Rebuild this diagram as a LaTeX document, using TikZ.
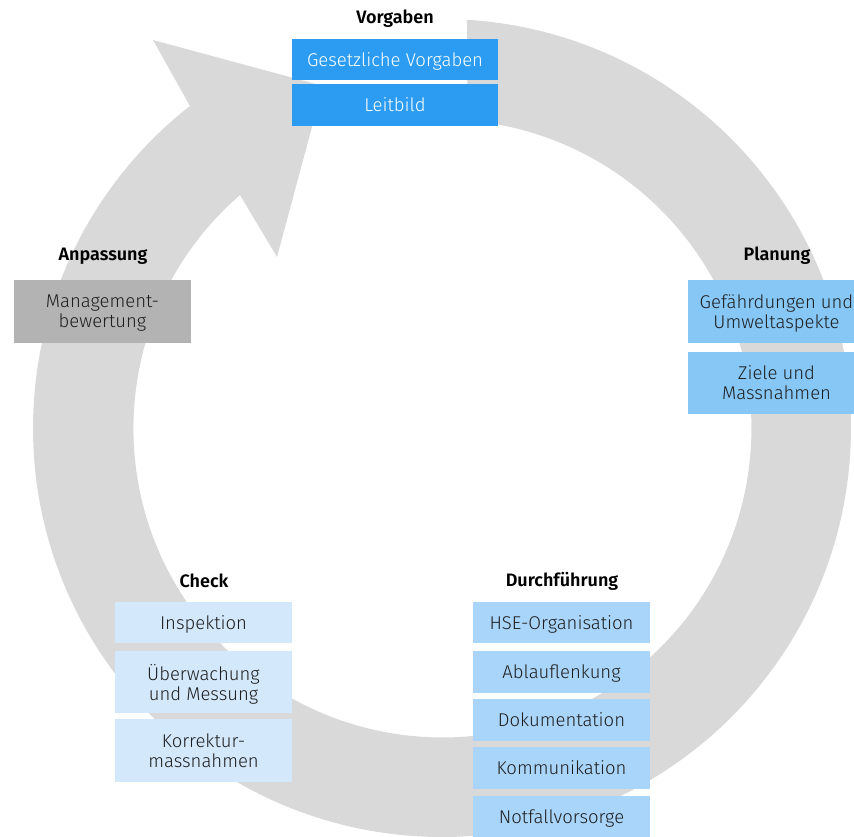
\documentclass[tikz,border=0pt]{standalone}
\usepackage{fontspec}
\setmainfont{Fira Sans}[UprightFont={* Light}, BoldFont={* SemiBold}]
\usepackage{tikz}
\definecolor{ringgrau}{HTML}{D9D9D9}
\definecolor{blaudunkel}{HTML}{2B9CF2}
\definecolor{blaumittel}{HTML}{86C7F6}
\definecolor{blauhell}{HTML}{A9D5FA}
\definecolor{blaublass}{HTML}{D3E8FB}
\definecolor{grau}{HTML}{B3B3B3}
\definecolor{schrift}{HTML}{1E1E1E}

\begin{document}
\begin{tikzpicture}[x=1pt,y=1pt,
titel/.style={font=\bfseries\fontsize{18}{20}\selectfont,text=black},
kasten/.style={rectangle,minimum width=177pt,minimum height=41pt,inner sep=0pt,align=center,
font=\fontsize{18.5}{20}\selectfont,text=schrift,text depth=-4pt},
]
\useasboundingbox (0,0) rectangle (854,-836);
% Kreislauf-Pfeil
\coordinate (mitte) at (442,-428);
\fill[ringgrau] (mitte) ++(86.5:409pt) arc[start angle=86.5,end angle=-231.95,radius=409pt]
 -- (153,-40) -- (323,-86) -- (277,-257) -- (240,-195)
 arc[start angle=-229.07,end angle=85.36,radius=309pt] -- cycle;
% Vorgaben
\node[titel](vorgaben) at (395,-19){Vorgaben};
\node[kasten,fill=blaudunkel,text=white,minimum width=206pt](gesetz) at (395,-59.5){Gesetzliche Vorgaben};
\node[kasten,fill=blaudunkel,text=white,minimum width=206pt,minimum height=42pt](leitbild) at (395,-105){Leitbild};
% Planung
\node[titel](planung) at (777,-256){Planung};
\node[kasten,fill=blaumittel,minimum height=63pt](gefahr) at (776.5,-311.5){Gefährdungen und\\Umweltaspekte};
\node[kasten,fill=blaumittel,minimum height=62pt](ziele) at (776.5,-383){Ziele und\\Massnahmen};
% Durchfuehrung
\node[titel](durch) at (562,-581){Durchführung};
\node[kasten,fill=blauhell](hse) at (561.5,-622.5){HSE-Organisation};
\node[kasten,fill=blauhell,minimum height=42pt](ablauf) at (561.5,-672){Ablauflenkung};
\node[kasten,fill=blauhell,minimum height=42pt](doku) at (561.5,-720){Dokumentation};
\node[kasten,fill=blauhell,minimum height=42pt](komm) at (561.5,-768){Kommunikation};
\node[kasten,fill=blauhell](notfall) at (561.5,-816.5){Notfallvorsorge};
% Check
\node[titel](check) at (204,-581){Check};
\node[kasten,fill=blaublass](inspektion) at (203.5,-622.5){Inspektion};
\node[kasten,fill=blaublass,minimum height=62pt](ueberw) at (203.5,-682){Überwachung\\und Messung};
\node[kasten,fill=blaublass,minimum height=63pt](korrektur) at (203.5,-750.5){Korrektur-\\massnahmen};
% Anpassung
\node[titel](anpassung) at (103,-256){Anpassung};
\node[kasten,fill=grau,minimum height=63pt](management) at (102.5,-311.5){Management-\\bewertung};
\end{tikzpicture}
\end{document}
